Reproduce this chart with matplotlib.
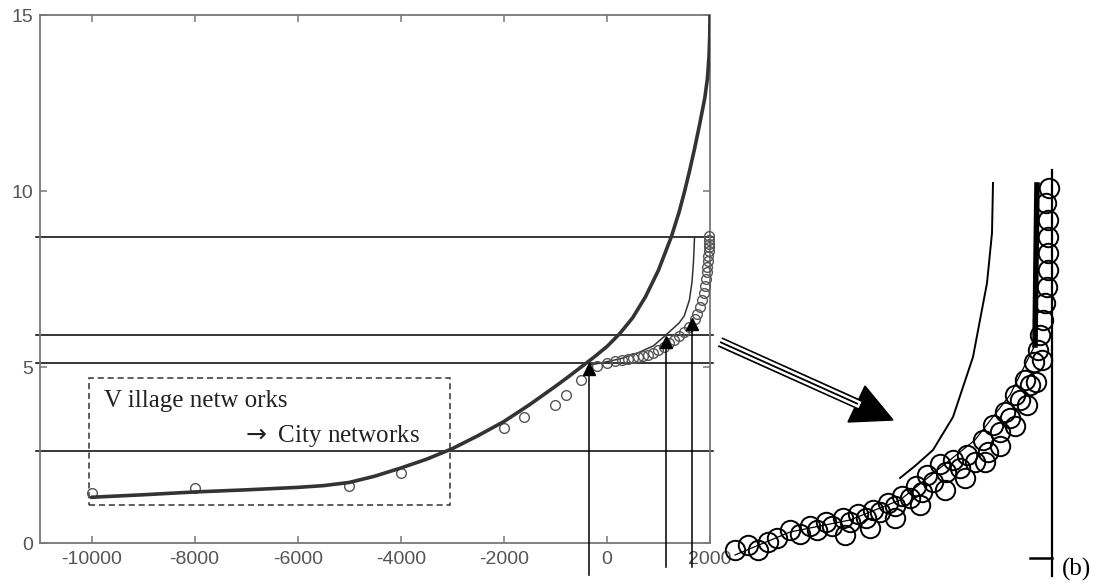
import matplotlib
matplotlib.use("Agg")
import matplotlib.pyplot as plt
from matplotlib.patches import Rectangle, Polygon

# ---------------- data ----------------
# thick model curve
curve_x = [-10000, -9000, -8000, -7000, -6000, -5500, -5000, -4500, -4000, -3500,
           -3000, -2500, -2000, -1500, -1000, -750, -500, -250, 0, 250,
           500, 750, 1000, 1250, 1400, 1500, 1600, 1700, 1800, 1900,
           1950, 1980, 1995, 2000]
curve_y = [1.30, 1.37, 1.45, 1.51, 1.58, 1.63, 1.72, 1.90, 2.13, 2.38,
           2.68, 3.05, 3.45, 3.93, 4.45, 4.72, 5.00, 5.28, 5.58, 5.95,
           6.40, 7.00, 7.75, 8.70, 9.40, 9.95, 10.55, 11.20, 11.90, 12.65,
           13.20, 13.80, 14.40, 15.00]

# thin second curve
thin_x = [-350, 0, 300, 600, 900, 1100, 1250, 1400, 1500, 1600, 1650, 1680, 1700]
thin_y = [5.05, 5.15, 5.25, 5.40, 5.60, 5.85, 6.05, 6.25, 6.45, 6.90, 7.40, 8.00, 8.70]

# observed data (open circles)
obs_x = [-10000, -8000, -5000, -4000, -2000, -1600, -1000, -800, -500, -200,
         0, 150, 300, 400, 500, 600, 700, 800, 900, 1000,
         1100, 1200, 1300, 1400, 1500, 1600, 1700, 1750, 1800, 1850,
         1880, 1900, 1920, 1940, 1950, 1960, 1970, 1975, 1980, 1985, 1990, 1990]
obs_y = [1.42, 1.57, 1.62, 1.98, 3.27, 3.58, 3.92, 4.20, 4.63, 5.03,
         5.12, 5.17, 5.20, 5.22, 5.25, 5.28, 5.31, 5.35, 5.40, 5.48,
         5.58, 5.68, 5.78, 5.88, 6.00, 6.15, 6.35, 6.50, 6.70, 6.90,
         7.10, 7.30, 7.50, 7.70, 7.85, 8.00, 8.15, 8.30, 8.40, 8.50, 8.62, 8.72]

# transition markers (filled triangles with vertical drop lines)
tri_x = [-350, 1140, 1660]
tri_y = [4.95, 5.72, 6.22]
drop_bottom = [-0.90, -0.68, -0.68]

# horizontal reference levels
levels = [8.7, 5.9, 5.1, 2.6]

xticks = [-10000, -8000, -6000, -4000, -2000, 0, 2000]
yticks = [0, 5, 10, 15]

# dashed box around the village -> city networks region
box_x = (-10050, -3050)
box_y = (1.08, 4.69)

# zoomed inset (b): circle centres in inset pixel units
inset_x = [735, 748, 758, 768, 777, 790, 800, 810, 817, 826, 832, 843, 850, 858,
           866, 873, 880, 888, 895, 902, 910, 916, 922, 927, 933, 940, 946, 953,
           960, 967, 975, 983, 988, 993, 1000, 1005, 1010, 1015, 1020, 1025, 1030,
           1034, 1038, 1040, 1043, 1045, 1047, 1048, 1048, 1048, 1048, 1046, 1049,
           845, 870, 895, 920, 945, 965, 985, 1000, 1015, 1027, 1036, 1042]
inset_y = [550, 545, 550, 542, 538, 530, 534, 526, 530, 522, 526, 518, 522, 514,
           518, 510, 512, 503, 506, 496, 498, 486, 492, 475, 482, 464, 472, 460,
           468, 455, 462, 440, 452, 425, 432, 412, 418, 395, 400, 380, 385,
           362, 350, 335, 320, 303, 287, 270, 253, 237, 220, 203, 188,
           535, 528, 518, 505, 490, 478, 462, 446, 426, 405, 382, 360]
inset_curve_x = [900, 915, 933, 953, 973, 987, 992, 993]
inset_curve_y = [478, 466, 450, 417, 357, 283, 233, 183]
inset_line_x = [735, 790, 850, 900, 940, 975, 1010, 1035]
inset_line_y = [555, 532, 520, 500, 468, 440, 395, 345]

# ---------------- figure ----------------
W, H = 1103, 585
fig = plt.figure(figsize=(W / 100, H / 100), dpi=100)
ax = fig.add_axes([40 / W, 1 - 543 / H, 670 / W, 528 / H])

gray = "#777777"
ax.set_xlim(-11000, 2000)
ax.set_ylim(0, 15)

# horizontal levels
for lv in levels:
    ax.plot([-11080, 2060], [lv, lv], color="black", lw=1.1, clip_on=False, zorder=2)

# thick curve
ax.plot(curve_x, curve_y, color="#333333", lw=2.6, solid_capstyle="round",
        solid_joinstyle="round", zorder=4)
# thin curve
ax.plot(thin_x, thin_y, color="#333333", lw=1.1, zorder=3)
# observations
ax.plot(obs_x, obs_y, linestyle="none", marker="o", ms=7, mfc="none",
        mec="#555555", mew=1.0, clip_on=False, zorder=3)
# drop lines + triangles
for tx, ty, tb in zip(tri_x, tri_y, drop_bottom):
    ax.plot([tx, tx], [tb, ty], color="black", lw=1.1, clip_on=False, zorder=3)
ax.plot(tri_x, tri_y, linestyle="none", marker="^", ms=8, color="black", zorder=5)

# dashed box
ax.add_patch(Rectangle((box_x[0], box_y[0]), box_x[1] - box_x[0], box_y[1] - box_y[0],
                       fill=False, ls=(0, (4, 2.5)), lw=1.1, ec="#333333", zorder=2))
serif = ["Liberation Serif", "DejaVu Serif"]
ax.text(-9750, 3.85, "V illage netw orks", family=serif, fontsize=18, color="#222222",
        va="baseline", ha="left")
ax.text(-7100, 2.86, r"$\rightarrow$ City networks", family=serif, fontsize=18,
        color="#222222", va="baseline", ha="left")

# axes styling
ax.set_xticks(xticks)
ax.set_xticklabels([str(v) for v in xticks])
ax.set_yticks(yticks)
ax.set_yticklabels([str(v) for v in yticks])
for s in ax.spines.values():
    s.set_color(gray)
    s.set_linewidth(1.3)
ax.tick_params(direction="in", length=5, width=1.1, color=gray, top=True, right=True,
               labelcolor="#555555", labelsize=14)
ax.tick_params(axis="x", pad=6)
ax.tick_params(axis="y", pad=5)
for lab in ax.get_xticklabels() + ax.get_yticklabels():
    lab.set_family(["Liberation Sans", "DejaVu Sans"])

# ---------------- overlay: arrow + zoomed inset (b) ----------------
ov = fig.add_axes([0, 0, 1, 1], zorder=10)
ov.set_xlim(0, W)
ov.set_ylim(H, 0)
ov.axis("off")
ov.patch.set_alpha(0)

# triple-line arrow
sx, sy, ex, ey = 720, 342, 858, 404
ov.plot([sx, ex], [sy, ey], color="black", lw=7.4, solid_capstyle="butt")
ov.plot([sx - 2, ex + 2], [sy - 1, ey + 1], color="white", lw=5.0, solid_capstyle="butt")
ov.plot([sx, ex], [sy, ey], color="black", lw=1.3, solid_capstyle="butt")
ov.add_patch(Polygon([(848, 422), (865, 386), (893, 420)], closed=True, color="black"))

# inset
ov.plot(inset_line_x, inset_line_y, color="black", lw=0.9)
ov.plot(inset_x, inset_y, linestyle="none", marker="o", ms=14, mfc="none",
        mec="black", mew=1.4)
ov.plot(inset_curve_x, inset_curve_y, color="black", lw=1.4)
ov.plot([1035, 1036, 1037], [345, 260, 185], color="black", lw=4)
ov.plot([1052, 1052], [170, 576], color="black", lw=1.6)
ov.plot([1030, 1052], [558, 558], color="black", lw=1.8)
ov.text(1062, 576, "(b)", family=serif, fontsize=18, color="black", va="baseline")

fig.savefig("out.png", dpi=100)
